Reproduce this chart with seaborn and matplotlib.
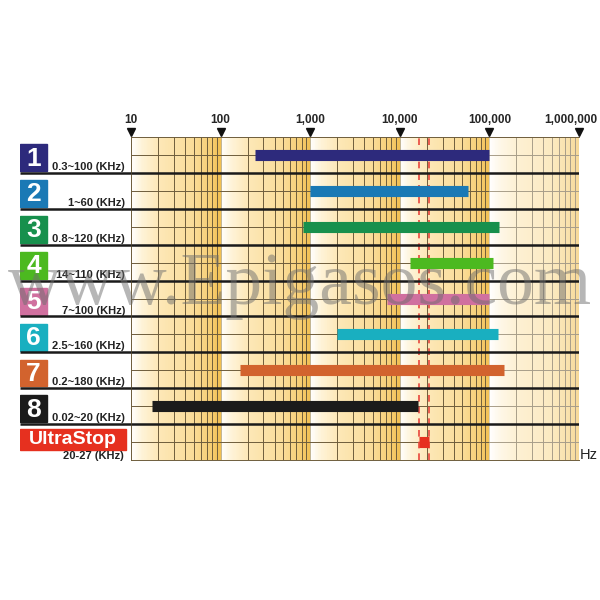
import numpy as np
import pandas as pd
import seaborn as sns
import matplotlib.pyplot as plt
from matplotlib.colors import LinearSegmentedColormap
from matplotlib.patches import Rectangle
from matplotlib.ticker import LogLocator, NullFormatter
from matplotlib.transforms import offset_copy

names = ['1', '2', '3', '4', '5', '6', '7', '8', 'UltraStop']
ranges = ['0.3~100 (KHz)', '1~60 (KHz)', '0.8~120 (KHz)', '14~110 (KHz)', '7~100 (KHz)',
          '2.5~160 (KHz)', '0.2~180 (KHz)', '0.02~20 (KHz)', '20-27 (KHz)']
# bar ends in Hz
start_hz = [240, 1000, 830, 13000, 7200, 2000, 165, 17, 16500]
end_hz = [100000, 58000, 128000, 110000, 100000, 125000, 146000, 16000, 21000]
colors = ['#2d2a7c', '#1a79b5', '#17904d', '#4cb920', '#d0709f',
          '#19afc0', '#d2632e', '#1b1b1b', '#e6301f']
decades = [10, 100, 1000, 10000, 100000, 1000000]
decade_text = ['10', '100', '1,000', '10,000', '100,000', '1,000,000']

sns.set_theme(style='white')
plt.rcParams['font.family'] = ['Liberation Sans', 'DejaVu Sans']

df = pd.DataFrame({
    'device': np.repeat(names, 2),
    'freq': np.ravel(np.column_stack([start_hz, end_hz])),
    'row': np.repeat(np.arange(len(names)) + 0.5, 2),
})

fig = plt.figure(figsize=(6, 6), dpi=100)
ax = fig.add_axes([131 / 600, 1 - 460 / 600, 448 / 600, 323 / 600])
lab = fig.add_axes([20 / 600, 1 - 460 / 600, 111 / 600, 323 / 600])
nrows = len(names)
grid_c = '#6e5d3c'

# golden gradient background, one fade per decade
gold = LinearSegmentedColormap.from_list('gold', [
    (0, '#ffffff'), (0.12, '#fef3d8'), (0.3, '#fde8b8'), (0.7, '#fadc98'),
    (0.9, '#f6cd72'), (1, '#f1bf52')])
xe = np.logspace(1, 6, 601)
xc = np.sqrt(xe[:-1] * xe[1:])
frac = np.log10(xc) % 1
ax.pcolormesh(xe, [0, nrows], frac[None, :], cmap=gold, vmin=0, vmax=1, zorder=0, shading='flat')

ax.set_xscale('log')
ax.set_xlim(10, 1e6)
ax.set_ylim(nrows, 0)

ax.xaxis.set_minor_locator(LogLocator(base=10, subs=range(2, 10), numticks=20))
ax.xaxis.set_minor_formatter(NullFormatter())
ax.grid(which='minor', axis='x', color=grid_c, lw=0.7, zorder=1)
ax.grid(which='major', axis='x', color='#b8a880', lw=0.6, zorder=1)
ax.set_axisbelow(True)
ax.hlines(np.arange(nrows) + 0.5, 10, 1e6, color=grid_c, lw=0.7, zorder=1)
# the last decade is washed out in the original
ax.axvspan(1e5, 1e6, color='white', alpha=0.4, lw=0, zorder=1.5)
ax.hlines(np.arange(1, nrows), 10, 1e6, color='#1a1a1a', lw=1.8, zorder=3)

sns.lineplot(data=df, x='freq', y='row', hue='device', hue_order=names,
             palette=dict(zip(names, colors)), lw=8, legend=False,
             solid_capstyle='butt', ax=ax, zorder=4)

for f in (start_hz[-1], end_hz[-1]):
    ax.axvline(f, color='#e8463c', lw=1.2, dashes=(4, 3), zorder=2)

ax.set_xticks(decades, decade_text)
ax.tick_params(axis='x', which='both', top=True, bottom=False, labeltop=True,
               labelbottom=False, length=0, pad=8, labelsize=8.5)
for t in ax.get_xticklabels():
    t.set_fontweight('bold')
last = ax.xaxis.get_major_ticks()[-1].label2
last.set_transform(offset_copy(last.get_transform(), fig=fig, x=-8, units='dots'))
ax.plot(decades, [1.017] * len(decades), 'v', color='#111111', ms=6,
        transform=ax.get_xaxis_transform(), clip_on=False)
ax.set_yticks([])
ax.set_xlabel('')
ax.set_ylabel('')
ax.spines['right'].set_visible(False)
for s in ['top', 'left', 'bottom']:
    ax.spines[s].set_color(grid_c)
    ax.spines[s].set_linewidth(0.7)

# left labels
lab.set_xlim(0, 111)
lab.set_ylim(nrows, 0)
lab.axis('off')
lab.hlines(np.arange(1, nrows), 0, 111, color='#1a1a1a', lw=1.8)
for i, (n, r, c) in enumerate(zip(names, ranges, colors)):
    if n == 'UltraStop':
        lab.add_patch(Rectangle((0, i + 0.14), 106, 0.58, color=c))
        lab.text(53, i + 0.44, n, color='white', fontsize=14, fontweight='bold',
                 ha='center', va='center')
        lab.text(104, i + 0.97, r, fontsize=8, fontweight='bold', color='#222222',
                 ha='right', va='baseline')
    else:
        lab.add_patch(Rectangle((0, i + 0.2), 27, 0.75, color=c))
        lab.text(13.5, i + 0.6, n, color='white', fontsize=19, fontweight='bold',
                 ha='center', va='center')
        lab.text(105, i + 0.92, r, fontsize=8, fontweight='bold', color='#222222',
                 ha='right', va='baseline')

fig.text(589 / 600, 1 - 455 / 600, 'Hz', fontsize=10.5, color='#222222', ha='center', va='center')
fig.text(0.5, 1 - 304 / 600, 'www.Epigasos.com', fontsize=53, family='Liberation Serif',
         color='#6e6e6e', alpha=0.5, ha='center', va='baseline', zorder=10)

fig.savefig('out.png', dpi=100)
